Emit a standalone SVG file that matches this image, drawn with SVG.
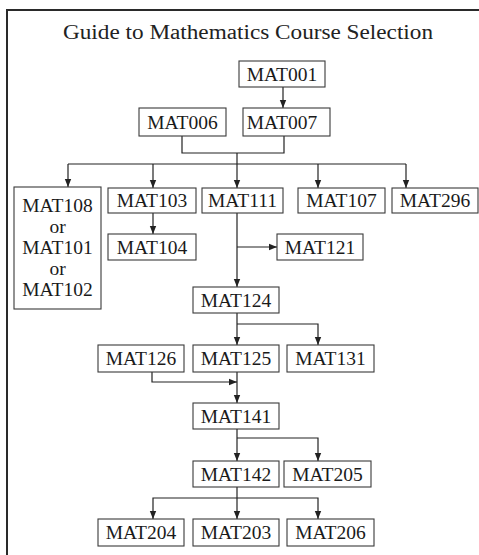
<svg xmlns="http://www.w3.org/2000/svg" width="479" height="555" viewBox="0 0 479 555">
<defs>
<style>
.bx{fill:#fff;stroke:#3a3a3a;stroke-width:1.1}
.t{font-family:"Liberation Serif","Times New Roman",serif;font-size:19.5px;fill:#1a1a1a;text-anchor:middle}
.c{fill:none;stroke:#222;stroke-width:1.2}
</style>
<marker id="ah" viewBox="0 0 10 10" refX="10" refY="5" markerWidth="8" markerHeight="8" markerUnits="userSpaceOnUse" orient="auto">
<path d="M0,1 L10,5 L0,9 Z" fill="#222"/>
</marker>
</defs>
<rect x="0" y="0" width="479" height="555" fill="#fff"/>
<path d="M7,555 V10 H479" fill="none" stroke="#2a2a2a" stroke-width="2"/>
<text x="248" y="39" font-family="'Liberation Serif','Times New Roman',serif" font-size="20" fill="#222" text-anchor="middle" textLength="370" lengthAdjust="spacingAndGlyphs">Guide to Mathematics Course Selection</text>

<g id="connectors" class="c">
<path d="M283,87 V108" marker-end="url(#ah)"/>
<path d="M182,136 V153 H284 V136"/>
<path d="M237,153 V164"/>
<path d="M68,164 H406"/>
<path d="M68,164 V187" marker-end="url(#ah)"/>
<path d="M153,164 V188" marker-end="url(#ah)"/>
<path d="M237,164 V188" marker-end="url(#ah)"/>
<path d="M318,164 V188" marker-end="url(#ah)"/>
<path d="M406,164 V188" marker-end="url(#ah)"/>
<path d="M153,213 V234" marker-end="url(#ah)"/>
<path d="M237,213 V287" marker-end="url(#ah)"/>
<path d="M237,247 H277" marker-end="url(#ah)"/>
<path d="M237,313 V345" marker-end="url(#ah)"/>
<path d="M237,324 H318 V345" marker-end="url(#ah)"/>
<path d="M152,372 V382 H237" marker-end="url(#ah)"/>
<path d="M237,372 V403" marker-end="url(#ah)"/>
<path d="M237,429 V461" marker-end="url(#ah)"/>
<path d="M237,438 H318 V461" marker-end="url(#ah)"/>
<path d="M237,487 V519" marker-end="url(#ah)"/>
<path d="M237,498 H153 V519" marker-end="url(#ah)"/>
<path d="M237,498 H318 V519" marker-end="url(#ah)"/>
</g>

<g id="MAT001"><rect class="bx" x="239" y="61" width="86" height="26"/><text class="t" x="282" y="81">MAT001</text></g>
<g id="MAT006"><rect class="bx" x="139" y="108" width="87" height="28"/><text class="t" x="182.5" y="129">MAT006</text></g>
<g id="MAT007"><rect class="bx" x="243" y="108" width="87" height="28"/><text class="t" x="282" y="129">MAT007</text></g>
<g id="MAT108"><rect class="bx" x="14" y="187" width="87" height="122"/>
<text class="t" x="57.5" y="212">MAT108</text>
<text class="t" x="57.5" y="233">or</text>
<text class="t" x="57.5" y="254">MAT101</text>
<text class="t" x="57.5" y="275">or</text>
<text class="t" x="57.5" y="296">MAT102</text></g>
<g id="MAT103"><rect class="bx" x="108" y="188" width="88" height="25"/><text class="t" x="152" y="207">MAT103</text></g>
<g id="MAT111"><rect class="bx" x="202" y="188" width="81" height="25"/><text class="t" x="242.5" y="207">MAT111</text></g>
<g id="MAT107"><rect class="bx" x="298" y="188" width="87" height="25"/><text class="t" x="341.5" y="207">MAT107</text></g>
<g id="MAT296"><rect class="bx" x="392" y="188" width="86" height="25"/><text class="t" x="435" y="207">MAT296</text></g>
<g id="MAT104"><rect class="bx" x="108" y="234" width="88" height="26"/><text class="t" x="152" y="254">MAT104</text></g>
<g id="MAT121"><rect class="bx" x="277" y="234" width="86" height="26"/><text class="t" x="320" y="254">MAT121</text></g>
<g id="MAT124"><rect class="bx" x="193" y="287" width="86" height="26"/><text class="t" x="236" y="307">MAT124</text></g>
<g id="MAT126"><rect class="bx" x="98" y="345" width="86" height="27"/><text class="t" x="141" y="365">MAT126</text></g>
<g id="MAT125"><rect class="bx" x="193" y="345" width="86" height="27"/><text class="t" x="236" y="365">MAT125</text></g>
<g id="MAT131"><rect class="bx" x="287" y="345" width="87" height="27"/><text class="t" x="330.5" y="365">MAT131</text></g>
<g id="MAT141"><rect class="bx" x="193" y="403" width="86" height="26"/><text class="t" x="236" y="423">MAT141</text></g>
<g id="MAT142"><rect class="bx" x="193" y="461" width="86" height="26"/><text class="t" x="236" y="481">MAT142</text></g>
<g id="MAT205"><rect class="bx" x="284" y="461" width="87" height="26"/><text class="t" x="327.5" y="481">MAT205</text></g>
<g id="MAT204"><rect class="bx" x="98" y="519" width="86" height="27"/><text class="t" x="141" y="539">MAT204</text></g>
<g id="MAT203"><rect class="bx" x="193" y="519" width="86" height="27"/><text class="t" x="236" y="539">MAT203</text></g>
<g id="MAT206"><rect class="bx" x="287" y="519" width="87" height="27"/><text class="t" x="330.5" y="539">MAT206</text></g>
</svg>
